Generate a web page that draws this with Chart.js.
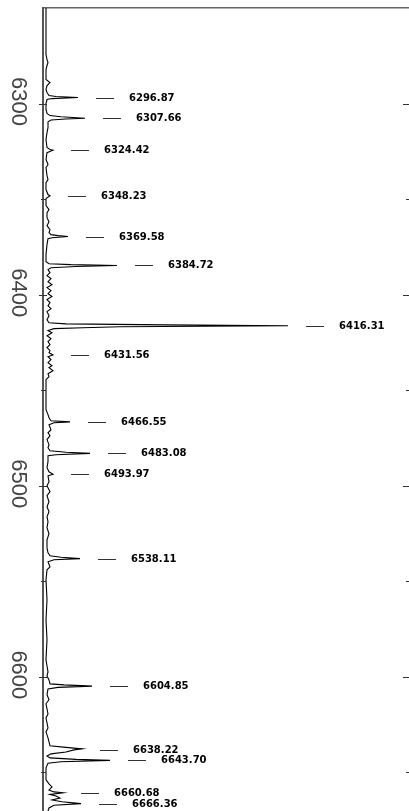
<!DOCTYPE html>
<html>
<head>
<meta charset="utf-8">
<script src="https://cdn.jsdelivr.net/npm/chart.js@4/dist/chart.umd.min.js"></script>
<style>
  html, body { margin: 0; padding: 0; background: #fff; }
  canvas { display: block; }
</style>
</head>
<body>
<canvas id="espectro" width="409" height="811"></canvas>
<script>
// Linhas identificadas (comprimento de onda) e altura do pico
const lineWaves = [6296.87, 6307.66, 6324.42, 6348.23, 6369.58, 6384.72, 6416.31, 6431.56,
    6466.55, 6483.08, 6493.97, 6538.11, 6604.85, 6638.22, 6643.70, 6660.68, 6666.36];
const linePeaks = [32, 39, 7, 4, 22, 71, 242, 7, 24, 44, 7, 34, 46, 36, 64, 17, 35];

// Marcas do eixo de comprimento de onda
const tickWaves = [6300, 6350, 6400, 6450, 6500, 6550, 6600, 6650];

// Espectro: [comprimento de onda, intensidade]
const spectrum = [
    [6250, 0], [6261.3, 0], [6274.3, 0], [6277.0, 1], [6278.5, 2], [6280.1, 1], [6282.2, 0],
    [6287.4, 0], [6289.0, 4], [6290.6, 1], [6292.7, 0], [6294.2, 1], [6295.8, 3], [6296.3, 10],
    [6296.87, 32], [6297.4, 6], [6297.9, 1], [6300, 0], [6303.1, 0], [6305.2, 1], [6306.3, 4],
    [6306.9, 15], [6307.66, 39], [6308.1, 20], [6308.6, 5], [6309.5, 2], [6312.6, 2], [6315.2, 1],
    [6318.8, 0], [6323.0, 1], [6324.0, 4], [6324.42, 7], [6325.7, 1], [6329.3, 0], [6331.9, 2],
    [6333.5, 0], [6337.7, 1], [6339.8, 2], [6341.4, 0], [6345.0, 0], [6347.6, 2], [6348.23, 4],
    [6349.7, 0], [6353.4, 0], [6355.5, 3], [6357.1, 1], [6359.7, 1], [6361.8, 3], [6363.9, 1],
    [6366.0, 4], [6367.5, 3], [6368.6, 5], [6369.1, 12], [6369.58, 22], [6370.2, 6], [6370.7, 2],
    [6373.8, 1], [6379.1, 0], [6382.7, 0], [6383.8, 3], [6384.3, 25], [6384.72, 71], [6385.3, 30],
    [6385.9, 5], [6386.9, 2], [6388.5, 4], [6390.1, 1], [6391.6, 5], [6393.2, 2], [6394.8, 6],
    [6396.3, 1], [6397.9, 5], [6399.5, 2], [6401.0, 6], [6402.6, 1], [6404.2, 4], [6405.8, 2],
    [6407.3, 5], [6408.9, 1], [6411.0, 3], [6413.1, 1], [6414.7, 3], [6415.3, 20], [6415.8, 120],
    [6416.31, 242], [6416.8, 74], [6417.3, 37], [6417.8, 8], [6418.8, 2], [6419.9, 6], [6421.5, 1],
    [6423.0, 5], [6424.6, 2], [6426.2, 4], [6427.7, 1], [6429.3, 4], [6430.4, 3], [6431.56, 7],
    [6432.5, 2], [6434.0, 5], [6435.6, 2], [6437.2, 6], [6438.2, 3], [6439.8, 7], [6441.4, 2],
    [6442.9, 3], [6444.5, 0], [6452.4, 0], [6460.2, 0], [6462.8, 2], [6464.4, 3], [6466.0, 5],
    [6466.55, 24], [6467.0, 8], [6468.1, 3], [6470.7, 5], [6472.3, 2], [6473.8, 4], [6475.9, 1],
    [6478.5, 3], [6480.1, 2], [6481.7, 4], [6482.5, 20], [6483.08, 44], [6483.8, 10], [6484.3, 2],
    [6487.4, 2], [6490.6, 1], [6492.7, 3], [6493.97, 7], [6494.8, 2], [6497.9, 3], [6500.0, 1],
    [6503.1, 4], [6505.2, 1], [6508.4, 3], [6511.0, 1], [6513.6, 3], [6516.2, 1], [6518.8, 2],
    [6522.0, 1], [6525.1, 3], [6528.3, 1], [6532.5, 1], [6535.1, 2], [6536.6, 4], [6537.4, 15],
    [6538.11, 34], [6538.7, 8], [6539.8, 2], [6542.4, 4], [6544.0, 1], [6549.2, 0], [6559.7, 1],
    [6570.2, 0], [6580.6, 1], [6591.1, 0], [6597.4, 2], [6599.5, 1], [6601.6, 3], [6603.7, 4],
    [6604.2, 18], [6604.85, 46], [6605.5, 12], [6606.3, 2], [6609.4, 1], [6612.0, 3], [6614.1, 0],
    [6619.4, 2], [6621.5, 0], [6626.7, 2], [6628.8, 0], [6631.9, 2], [6634.0, 3], [6636.1, 4],
    [6636.9, 20], [6637.7, 36], [6638.22, 28], [6639.3, 20], [6640.3, 5], [6641.4, 1], [6642.4, 4],
    [6643.2, 30], [6643.70, 64], [6644.4, 15], [6645.2, 2], [6647.6, 0], [6653.9, 0], [6656.0, 3],
    [6657.6, 6], [6659.2, 3], [6660.2, 8], [6660.68, 17], [6661.5, 4], [6662.3, 10], [6663.4, 14],
    [6664.4, 6], [6665.4, 16], [6666.36, 35], [6667.2, 8], [6668.6, 3], [6670.2, 2]
];

// Plugin: rótulos das linhas e marcas de escala
const marcasPlugin = {
    id: 'marcas',
    afterDatasetsDraw(chart) {
        const { ctx, chartArea, scales: { x, y } } = chart;
        ctx.save();
        ctx.strokeStyle = '#333';
        ctx.lineWidth = 1;

        // marcas à esquerda (cruzando o eixo) e à direita
        tickWaves.forEach(w => {
            const py = Math.round(y.getPixelForValue(w)) + 0.5;
            const major = w % 100 === 0;
            ctx.beginPath();
            ctx.moveTo(chartArea.left - (major ? 4 : 2), py);
            ctx.lineTo(chartArea.left + (major ? 4 : 3), py);
            ctx.moveTo(chartArea.right - (major ? 6 : 3), py);
            ctx.lineTo(chartArea.right, py);
            ctx.stroke();
        });

        // traço + valor de cada linha identificada
        ctx.font = 'bold 10px "DejaVu Sans"';
        ctx.fillStyle = '#000';
        ctx.textBaseline = 'middle';
        lineWaves.forEach((w, i) => {
            const py = Math.round(y.getPixelForValue(w)) + 0.5;
            const tip = x.getPixelForValue(linePeaks[i]);
            ctx.beginPath();
            ctx.moveTo(tip + 18, py);
            ctx.lineTo(tip + 36, py);
            ctx.stroke();
            ctx.fillText(w.toFixed(2), tip + 51, py);
        });
        ctx.restore();
    }
};

const config = {
    type: 'scatter',
    data: {
        datasets: [{
            data: spectrum.map(p => ({ x: p[1], y: p[0] })),
            showLine: true,
            borderColor: '#000',
            borderWidth: 1.1,
            pointRadius: 0,
            tension: 0
        }]
    },
    options: {
        responsive: false,
        devicePixelRatio: 1,
        animation: false,
        layout: { padding: { top: 8, left: 0, right: 0, bottom: 0 } },
        plugins: {
            legend: { display: false },
            tooltip: { enabled: false }
        },
        scales: {
            x: {
                type: 'linear',
                position: 'top',
                min: -3,
                max: 363,
                ticks: { display: false },
                grid: { drawOnChartArea: false, drawTicks: false },
                border: { color: '#666', width: 1.5 }
            },
            y: {
                type: 'linear',
                reverse: true,
                min: 6250,
                max: 6670.2,
                afterFit: scale => {
                    scale.width = 43;
                    scale.paddingTop = 0;
                    scale.paddingBottom = 0;
                },
                ticks: {
                    stepSize: 50,
                    autoSkip: false,
                    padding: 0,
                    crossAlign: 'center',
                    minRotation: -90,
                    maxRotation: -90,
                    labelOffset: -2,
                    color: '#444',
                    font: { family: 'Liberation Sans', size: 22 },
                    callback: v => (v % 100 === 0 ? String(v) : '')
                },
                grid: { drawOnChartArea: false, drawTicks: false },
                border: { color: '#555', width: 2 }
            }
        }
    },
    plugins: [marcasPlugin]
};

const ctx = document.getElementById('espectro').getContext('2d');
const grafico = new Chart(ctx, config);
</script>
</body>
</html>
